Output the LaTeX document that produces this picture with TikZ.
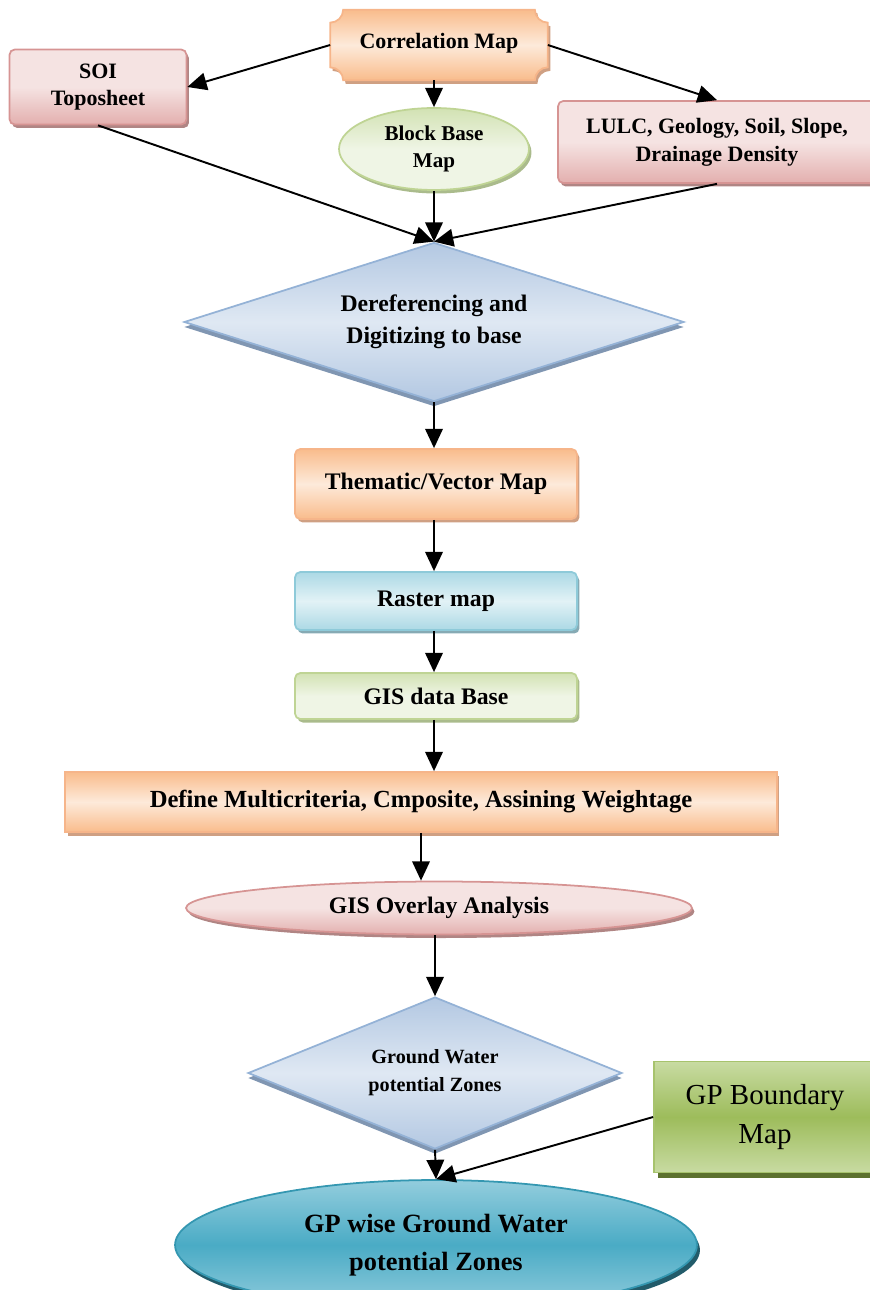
\documentclass[tikz,border=0pt]{standalone}
\usepackage{fontspec}
\setmainfont{Liberation Serif}
\usepackage{xcolor}
\usepackage{tikz}
\usetikzlibrary{shapes.geometric, arrows.meta, positioning, calc, shadows, backgrounds}

\definecolor{orDark}{HTML}{F9BC8C}
\definecolor{orLight}{HTML}{FDEADA}
\definecolor{orEdge}{HTML}{F6B58A}
\definecolor{orShadow}{HTML}{CFA083}
\definecolor{pkDark}{HTML}{E3AFAE}
\definecolor{pkLight}{HTML}{F5E3E2}
\definecolor{pkEdge}{HTML}{D69493}
\definecolor{pkShadow}{HTML}{B08584}
\definecolor{gnDark}{HTML}{D2E2B3}
\definecolor{gnLight}{HTML}{EFF5E5}
\definecolor{gnEdge}{HTML}{BFD494}
\definecolor{gnShadow}{HTML}{AABB8C}
\definecolor{blDark}{HTML}{B3C8E2}
\definecolor{blLight}{HTML}{DFE8F3}
\definecolor{blEdge}{HTML}{94B2D6}
\definecolor{blShadow}{HTML}{8096B2}
\definecolor{cyDark}{HTML}{ACD9E5}
\definecolor{cyLight}{HTML}{E2F2F6}
\definecolor{cyEdge}{HTML}{8ECAD9}
\definecolor{cyShadow}{HTML}{86AAB4}
\definecolor{olDark}{HTML}{9DBC5B}
\definecolor{olLight}{HTML}{C8DBA2}
\definecolor{olEdge}{HTML}{A7C36D}
\definecolor{olShadow}{HTML}{5C712F}
\definecolor{tlDark}{HTML}{4AABC5}
\definecolor{tlLight}{HTML}{93CDDD}
\definecolor{tlEdge}{HTML}{3497B1}
\definecolor{tlShadow}{HTML}{225B6A}

\tikzset{
  lbl/.style={align=center, inner sep=2pt, font=\bfseries\fontsize{13.5}{16}\selectfont},
  box/.style={lbl, rectangle, rounded corners=3pt, line width=1pt},
  oval/.style={lbl, ellipse, line width=1pt},
  decide/.style={lbl, diamond, line width=1pt, inner sep=0pt},
  peach/.style={draw=orEdge, top color=orDark, bottom color=orDark, middle color=orLight,
    drop shadow={shadow xshift=0.05cm, shadow yshift=-0.07cm, fill=orShadow, opacity=1}},
  rose/.style={draw=pkEdge, top color=pkLight, bottom color=pkDark, middle color=pkLight,
    drop shadow={shadow xshift=0.05cm, shadow yshift=-0.07cm, fill=pkShadow, opacity=1}},
  leaf/.style={draw=gnEdge, top color=gnDark, bottom color=gnLight, middle color=gnLight,
    drop shadow={shadow xshift=0.05cm, shadow yshift=-0.07cm, fill=gnShadow, opacity=1}},
  sky/.style={draw=blEdge, top color=blDark, bottom color=blDark, middle color=blLight,
    drop shadow={shadow xshift=0cm, shadow yshift=-0.1cm, fill=blShadow, opacity=1}},
  aqua/.style={draw=cyEdge, top color=cyDark, bottom color=cyDark, middle color=cyLight,
    drop shadow={shadow xshift=0.05cm, shadow yshift=-0.07cm, fill=cyShadow, opacity=1}},
  olive/.style={draw=olEdge, top color=olLight, bottom color=olLight, middle color=olDark,
    drop shadow={shadow xshift=0.08cm, shadow yshift=-0.1cm, fill=olShadow, opacity=1}},
  teal/.style={draw=tlEdge, top color=tlLight, bottom color=tlLight, middle color=tlDark,
    drop shadow={shadow xshift=0.06cm, shadow yshift=-0.1cm, fill=tlShadow, opacity=1}},
  arr/.style={-{Triangle[length=11pt,width=10pt]}, line width=1.1pt},
}

\begin{document}
\begin{tikzpicture}[x=0.02cm, y=-0.02cm]
    \useasboundingbox (0,0) rectangle (869,1290);
    \def\r{0.26cm}

    % top row
    \node[lbl, minimum width=4.34cm, minimum height=1.4cm, font=\bfseries\fontsize{12.5}{15}\selectfont] (corr) at (439,45) {\raisebox{5pt}{Correlation Map}};
    \begin{scope}[on background layer]
      \path[draw=orEdge, line width=1pt, top color=orDark, bottom color=orDark, middle color=orLight,
            drop shadow={shadow xshift=0.05cm, shadow yshift=-0.07cm, fill=orShadow, opacity=1}]
        ($(corr.north west)+(\r,0)$) -- ($(corr.north east)+(-\r,0)$)
        arc[start angle=180, end angle=270, radius=\r]
        -- ($(corr.south east)+(0,\r)$)
        arc[start angle=90, end angle=180, radius=\r]
        -- ($(corr.south west)+(\r,0)$)
        arc[start angle=0, end angle=90, radius=\r]
        -- ($(corr.north west)+(0,-\r)$)
        arc[start angle=270, end angle=360, radius=\r] -- cycle;
    \end{scope}

    \node[box, rose, minimum width=3.54cm, minimum height=1.5cm, font=\bfseries\fontsize{12.5}{15.5}\selectfont] (soi) at (98,87) {SOI\\Toposheet};
    \node[oval, leaf, minimum width=3.8cm, minimum height=1.64cm, font=\bfseries\fontsize{12}{15}\selectfont] (block) at (434,149) {Block Base\\Map};
    \node[box, rose, minimum width=6.36cm, minimum height=1.64cm, font=\bfseries\fontsize{12.5}{16}\selectfont] (lulc) at (717,142) {LULC, Geology, Soil, Slope,\\Drainage Density};

    % main column
    \node[decide, sky, aspect=3.14, minimum width=10cm, minimum height=3.18cm, font=\bfseries\fontsize{13.5}{18}\selectfont] (der) at (434,322) {Dereferencing and\\Digitizing to base};
    \node[box, peach, minimum width=5.64cm, minimum height=1.4cm] (them) at (436,484) {Thematic/Vector Map};
    \node[box, aqua, minimum width=5.64cm, minimum height=1.16cm] (raster) at (436,601) {Raster map};
    \node[box, leaf, minimum width=5.64cm, minimum height=0.92cm] (gisdb) at (436,696) {GIS data Base};
    \node[box, peach, rounded corners=0pt, minimum width=14.24cm, minimum height=1.2cm, font=\bfseries\fontsize{14}{16}\selectfont] (define) at (421,802) {Define Multicriteria, Cmposite, Assining Weightage};
    \node[oval, rose, minimum width=10.12cm, minimum height=1.06cm] (overlay) at (439,908) {GIS Overlay Analysis};
    \node[decide, sky, aspect=2.46, minimum width=7.48cm, minimum height=3.04cm, font=\bfseries\fontsize{11.5}{16}\selectfont] (gwp) at (435,1073) {Ground Water\\potential Zones};
    \node[box, olive, rounded corners=0pt, minimum width=4.44cm, minimum height=2.22cm, font=\fontsize{16.5}{22}\selectfont] (gpb) at (765,1117) {GP Boundary\\Map};
    \node[oval, teal, minimum width=10.44cm, minimum height=2.6cm, font=\bfseries\fontsize{15}{18}\selectfont] (gpw) at (436,1245) {\raisebox{4pt}{GP wise Ground Water}\\potential Zones};

    % connectors
    \draw[arr] (corr.west) -- (soi.east);
    \draw[arr] (corr.east) -- (lulc.north);
    \draw[arr] (corr.south -| block.north) -- (block.north);
    \draw[arr] (soi.south) -- (der.north);
    \draw[arr] (block.south) -- (der.north);
    \draw[arr] (lulc.south) -- (der.north);
    \draw[arr] (der.south) -- (them.north -| der.south);
    \draw[arr] (them.south -| der.south) -- (raster.north -| der.south);
    \draw[arr] (raster.south -| der.south) -- (gisdb.north -| der.south);
    \draw[arr] (gisdb.south -| der.south) -- (define.north -| der.south);
    \draw[arr] (define.south) -- (define.south |- overlay.north);
    \draw[arr] (overlay.south -| gwp.north) -- (gwp.north);
    \draw[arr] (gwp.south) -- (gpw.north);
    \draw[arr] (gpb.west) -- (gpw.north);
\end{tikzpicture}
\end{document}
